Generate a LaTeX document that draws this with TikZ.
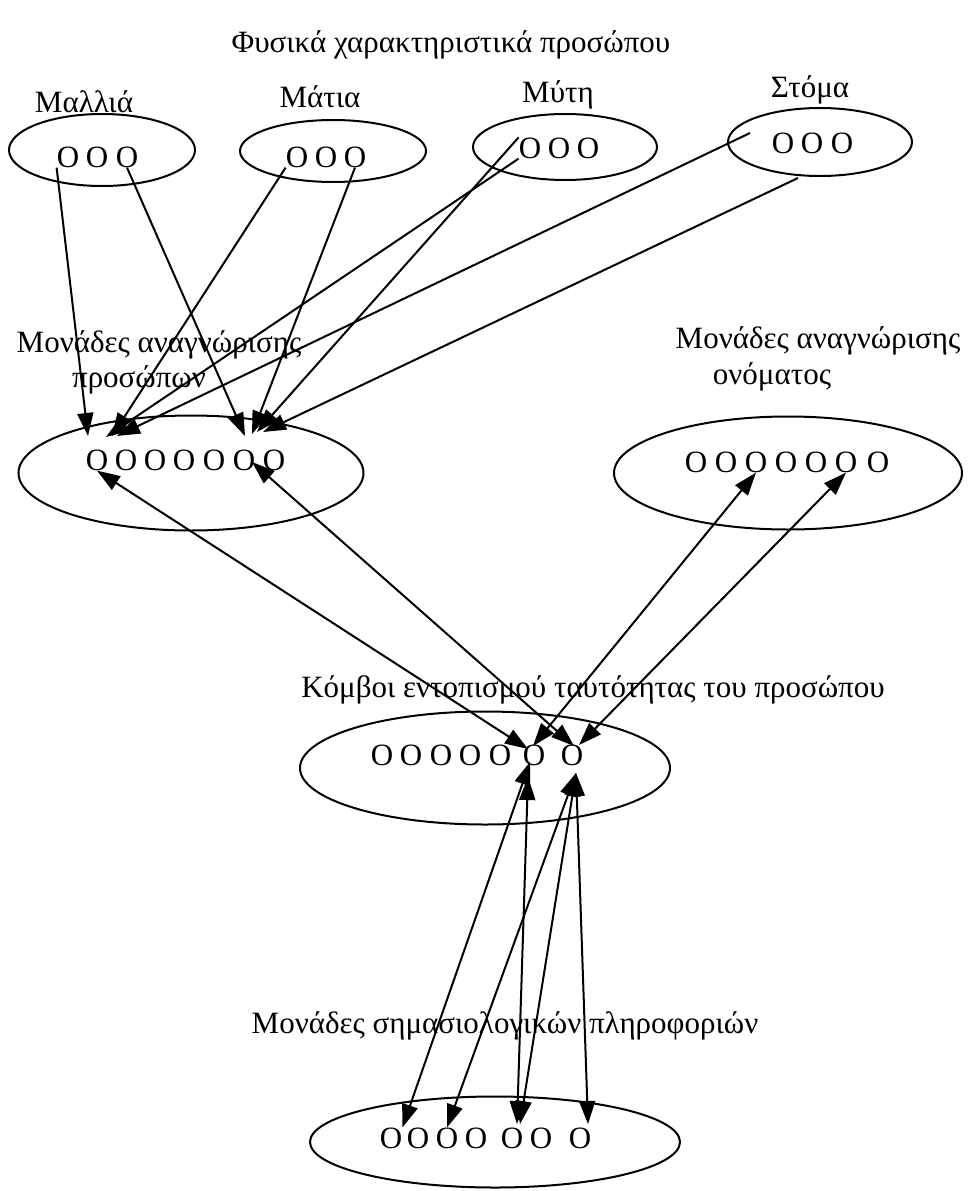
\documentclass[tikz,border=0pt]{standalone}
\usepackage{fontspec}
\setmainfont{Liberation Serif}
\usetikzlibrary{arrows.meta,shapes.geometric}
\begin{document}
\begin{tikzpicture}[x=1pt,y=-1pt,
  every node/.style={font=\fontsize{31}{35}\selectfont},
  oval/.style={draw, ellipse, line width=2pt, inner sep=0pt},
  dot/.style={inner sep=0pt, font=\fontsize{31}{35}\selectfont},
  lab/.style={inner sep=0pt},
  arr/.style={line width=2pt, -{Triangle[length=23pt,width=16pt]}},
  darr/.style={line width=2pt, {Triangle[length=23pt,width=16pt]}-{Triangle[length=23pt,width=16pt]}}]
\useasboundingbox[fill=white] (0,0) rectangle (975,1191);

% labels
\node[lab] (title) at (451,45) {Φυσικά χαρακτηριστικά προσώπου};
\node[lab] (lhair) at (84,102) {Μαλλιά};
\node[lab] (leyes) at (320,97) {Μάτια};
\node[lab] (lnose) at (558,95) {Μύτη};
\node[lab] (lmouth) at (810,90) {Στόμα};
\node[lab] (lface1) at (159,345) {Μονάδες αναγνώρισης};
\node[lab] (lface2) at (139,380) {προσώπων};
\node[lab] (lname1) at (818,341) {Μονάδες αναγνώρισης};
\node[lab] (lname2) at (772,377) {ονόματος};
\node[lab] (lid) at (593,690) {Κόμβοι εντοπισμού ταυτότητας του προσώπου};
\node[lab] (lsem) at (505,1026) {Μονάδες σημασιολογικών πληροφοριών};

% ellipses
\node[oval, minimum width=186pt, minimum height=72pt] (Ehair) at (102,150) {};
\node[oval, minimum width=186pt, minimum height=62pt] (Eeyes) at (333,151) {};
\node[oval, minimum width=184pt, minimum height=66pt] (Enose) at (565,147) {};
\node[oval, minimum width=184pt, minimum height=68pt] (Emouth) at (820,142) {};
\node[oval, minimum width=345pt, minimum height=115pt] (Eface) at (191,473) {};
\node[oval, minimum width=348pt, minimum height=113pt] (Ename) at (788,473) {};
\node[oval, minimum width=370pt, minimum height=113pt] (Eid) at (485,768) {};
\node[oval, minimum width=370pt, minimum height=91pt] (Esem) at (495,1142) {};

% units
\node[dot] (h1) at (68,157) {O};
\node[dot] (h2) at (97,157) {O};
\node[dot] (h3) at (127,157) {O};
\node[dot] (e1) at (297,157) {O};
\node[dot] (e2) at (326,157) {O};
\node[dot] (e3) at (355,157) {O};
\node[dot] (n1) at (530,148) {O};
\node[dot] (n2) at (559,148) {O};
\node[dot] (n3) at (588,148) {O};
\node[dot] (s1) at (783,143) {O};
\node[dot] (s2) at (812,143) {O};
\node[dot] (s3) at (842,143) {O};
\foreach \i/\x in {1/97,2/126,3/155,4/184,5/214,6/244,7/274}
  \node[dot] (p\i) at (\x,460) {O};
\foreach \i/\x in {1/696,2/726,3/756,4/786,5/816,6/846,7/878}
  \node[dot] (q\i) at (\x,462) {O};
\foreach \i/\x in {1/382,2/411,3/441,4/470,5/500,6/534,7/572}
  \node[dot] (k\i) at (\x,755) {O};
\foreach \i/\x in {1/391,2/418,3/447,4/476,5/512,6/541,7/580}
  \node[dot] (m\i) at (\x,1138) {O};

% free ends
\coordinate (ta1) at (88,436);
\coordinate (ta2) at (245,436);
\coordinate (ta3) at (112,436);
\coordinate (ta4) at (252,434);
\coordinate (ta5) at (257,432);
\coordinate (ta6) at (106,437);
\coordinate (ta7) at (117,436);
\coordinate (ta8) at (263,432);
\coordinate (sa) at (750,133);
\coordinate (sb) at (798,178);
\coordinate (pp6) at (252,462);
\coordinate (k6a) at (528,749);
\coordinate (k6b) at (533,746);
\coordinate (k7a) at (574,746);
\coordinate (k7b) at (579,745);
\coordinate (k6c) at (530,762);
\coordinate (k6d) at (528,777);
\coordinate (k7c) at (576,773);
\coordinate (m5a) at (517,1124);
\coordinate (m5b) at (520,1124);
\coordinate (m7a) at (588,1124);

% top to face units
\draw[arr] (h1.south west) -- (ta1);
\draw[arr] (h3.south) -- (ta2);
\draw[arr] (e1.south west) -- (ta3);
\draw[arr] (e3.south) -- (ta4);
\draw[arr] (n1.north west) -- (ta5);
\draw[arr] (n1.south west) -- (ta6);
\draw[arr] (sa) -- (ta7);
\draw[arr] (sb) -- (ta8);

% face <-> identity
\draw[darr] (p1.south) -- (k6a);
\draw[darr] (pp6) -- (k7a);
% name <-> identity
\draw[darr] (q3.south) -- (k6b);
\draw[darr] (q6.south) -- (k7b);
% identity <-> semantic
\draw[darr] (k6c) -- (m1.north east);
\draw[darr] (k6d) -- (m5a);
\draw[darr] (k7c) -- (m3.north);
\draw[darr] (k7c) -- (m5b);
\draw[darr] (k7c) -- (m7a);
\end{tikzpicture}
\end{document}
